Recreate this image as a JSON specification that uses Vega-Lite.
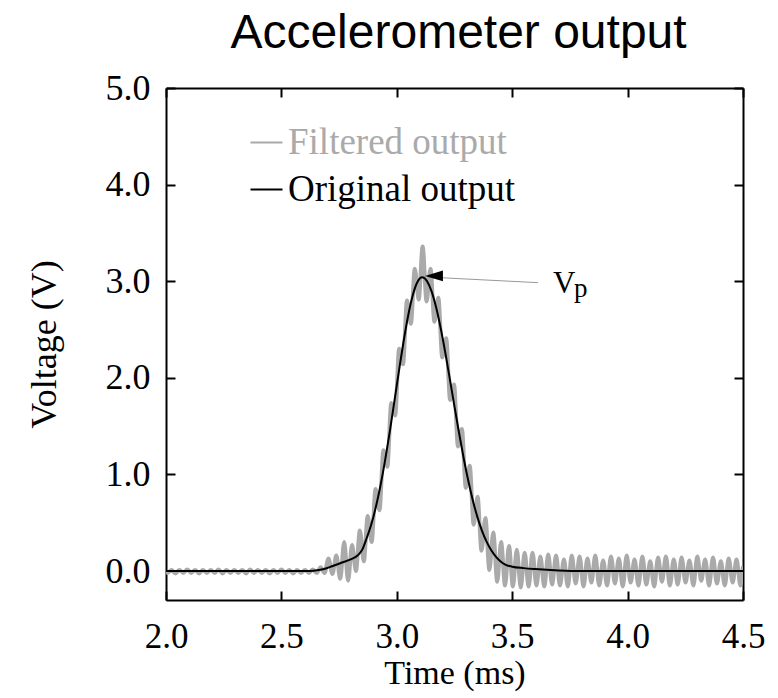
{
  "$schema": "https://vega.github.io/schema/vega-lite/v6.json",
  "width": 577,
  "height": 512,
  "autosize": "none",
  "padding": {"left": 166, "top": 88, "right": 35, "bottom": 98},
  "background": "white",
  "title": {"text": "Accelerometer output", "font": "Liberation Sans", "fontSize": 48, "fontWeight": "normal", "color": "#000000", "anchor": "middle", "offset": 12, "dx": 4},
  "config": {
    "view": {"stroke": null},
    "axis": {
      "grid": false,
      "domainColor": "#000000",
      "domainWidth": 2,
      "tickColor": "#000000",
      "tickWidth": 2,
      "tickSize": -9,
      "labelFont": "Liberation Serif",
      "labelFontSize": 36,
      "labelColor": "#000000",
      "titleFont": "Liberation Serif",
      "titleFontSize": 36,
      "titleFontWeight": "normal",
      "titleColor": "#000000"
    },
    "legend": {
      "orient": "none",
      "legendX": 82,
      "legendY": 36,
      "title": null,
      "symbolType": "stroke",
      "symbolSize": 1024,
      "symbolStrokeWidth": 2,
      "labelFont": "Liberation Serif",
      "labelFontSize": 37,
      "labelOffset": 3,
      "rowPadding": 9,
      "labelLimit": 0
    }
  },
  "datasets": {
    "filtered": [
      {"t": 2.000, "v": 0.0}, {"t": 2.007, "v": -0.02}, {"t": 2.024, "v": 0.01}, {"t": 2.041, "v": -0.025}, {"t": 2.058, "v": 0.01},
      {"t": 2.075, "v": -0.02}, {"t": 2.092, "v": 0.015}, {"t": 2.109, "v": -0.02}, {"t": 2.126, "v": 0.01}, {"t": 2.143, "v": -0.025},
      {"t": 2.160, "v": 0.01}, {"t": 2.177, "v": -0.02}, {"t": 2.194, "v": 0.01}, {"t": 2.211, "v": -0.02}, {"t": 2.228, "v": 0.015},
      {"t": 2.245, "v": -0.025}, {"t": 2.262, "v": 0.01}, {"t": 2.279, "v": -0.02}, {"t": 2.296, "v": 0.01}, {"t": 2.313, "v": -0.02},
      {"t": 2.330, "v": 0.01}, {"t": 2.347, "v": -0.025}, {"t": 2.364, "v": 0.015}, {"t": 2.381, "v": -0.02}, {"t": 2.398, "v": 0.01},
      {"t": 2.415, "v": -0.02}, {"t": 2.432, "v": 0.01}, {"t": 2.449, "v": -0.025}, {"t": 2.466, "v": 0.01}, {"t": 2.483, "v": -0.02},
      {"t": 2.500, "v": 0.015}, {"t": 2.517, "v": -0.02}, {"t": 2.534, "v": 0.01}, {"t": 2.551, "v": -0.025}, {"t": 2.568, "v": 0.01},
      {"t": 2.585, "v": -0.02}, {"t": 2.602, "v": 0.01}, {"t": 2.619, "v": -0.02}, {"t": 2.636, "v": 0.015}, {"t": 2.653, "v": -0.02},
      {"t": 2.670, "v": 0.04}, {"t": 2.687, "v": -0.02}, {"t": 2.704, "v": 0.13}, {"t": 2.721, "v": -0.03}, {"t": 2.738, "v": 0.16},
      {"t": 2.755, "v": -0.08}, {"t": 2.772, "v": 0.30}, {"t": 2.789, "v": -0.10}, {"t": 2.806, "v": 0.27}, {"t": 2.823, "v": 0.00},
      {"t": 2.840, "v": 0.42}, {"t": 2.857, "v": 0.10}, {"t": 2.874, "v": 0.57}, {"t": 2.891, "v": 0.30}, {"t": 2.908, "v": 0.85},
      {"t": 2.925, "v": 0.63}, {"t": 2.942, "v": 1.25}, {"t": 2.959, "v": 1.08}, {"t": 2.976, "v": 1.74}, {"t": 2.993, "v": 1.61},
      {"t": 3.010, "v": 2.30}, {"t": 3.027, "v": 2.14}, {"t": 3.044, "v": 2.80}, {"t": 3.061, "v": 2.56}, {"t": 3.078, "v": 3.13},
      {"t": 3.095, "v": 2.81}, {"t": 3.112, "v": 3.36}, {"t": 3.129, "v": 2.79}, {"t": 3.146, "v": 3.13}, {"t": 3.163, "v": 2.58},
      {"t": 3.180, "v": 2.83}, {"t": 3.197, "v": 2.21}, {"t": 3.214, "v": 2.41}, {"t": 3.231, "v": 1.77}, {"t": 3.248, "v": 1.93},
      {"t": 3.265, "v": 1.29}, {"t": 3.282, "v": 1.47}, {"t": 3.299, "v": 0.86}, {"t": 3.316, "v": 1.09}, {"t": 3.333, "v": 0.48},
      {"t": 3.350, "v": 0.77}, {"t": 3.367, "v": 0.21}, {"t": 3.384, "v": 0.55}, {"t": 3.401, "v": 0.01}, {"t": 3.418, "v": 0.40},
      {"t": 3.435, "v": -0.11}, {"t": 3.452, "v": 0.30}, {"t": 3.469, "v": -0.15}, {"t": 3.486, "v": 0.26}, {"t": 3.503, "v": -0.16},
      {"t": 3.520, "v": 0.22}, {"t": 3.537, "v": -0.17}, {"t": 3.554, "v": 0.19}, {"t": 3.571, "v": -0.16}, {"t": 3.588, "v": 0.19},
      {"t": 3.605, "v": -0.15}, {"t": 3.622, "v": 0.15}, {"t": 3.639, "v": -0.16}, {"t": 3.656, "v": 0.17}, {"t": 3.673, "v": -0.14},
      {"t": 3.690, "v": 0.16}, {"t": 3.707, "v": -0.15}, {"t": 3.724, "v": 0.12}, {"t": 3.741, "v": -0.16}, {"t": 3.758, "v": 0.16},
      {"t": 3.775, "v": -0.13}, {"t": 3.792, "v": 0.15}, {"t": 3.809, "v": -0.16}, {"t": 3.826, "v": 0.13}, {"t": 3.843, "v": -0.12},
      {"t": 3.860, "v": 0.16}, {"t": 3.877, "v": -0.15}, {"t": 3.894, "v": 0.11}, {"t": 3.911, "v": -0.15}, {"t": 3.928, "v": 0.15},
      {"t": 3.945, "v": -0.13}, {"t": 3.962, "v": 0.13}, {"t": 3.979, "v": -0.16}, {"t": 3.996, "v": 0.16}, {"t": 4.013, "v": -0.12},
      {"t": 4.030, "v": 0.12}, {"t": 4.047, "v": -0.15}, {"t": 4.064, "v": 0.15}, {"t": 4.081, "v": -0.14}, {"t": 4.098, "v": 0.10},
      {"t": 4.115, "v": -0.16}, {"t": 4.132, "v": 0.14}, {"t": 4.149, "v": -0.11}, {"t": 4.166, "v": 0.15}, {"t": 4.183, "v": -0.15},
      {"t": 4.200, "v": 0.12}, {"t": 4.217, "v": -0.14}, {"t": 4.234, "v": 0.14}, {"t": 4.251, "v": -0.12}, {"t": 4.268, "v": 0.11},
      {"t": 4.285, "v": -0.15}, {"t": 4.302, "v": 0.15}, {"t": 4.319, "v": -0.10}, {"t": 4.336, "v": 0.12}, {"t": 4.353, "v": -0.15},
      {"t": 4.370, "v": 0.14}, {"t": 4.387, "v": -0.13}, {"t": 4.404, "v": 0.10}, {"t": 4.421, "v": -0.15}, {"t": 4.438, "v": 0.13},
      {"t": 4.455, "v": -0.12}, {"t": 4.472, "v": 0.12}, {"t": 4.489, "v": -0.15}, {"t": 4.500, "v": 0.05}
    ],
    "original": [
      {"t": 2.00, "v": 0.0}, {"t": 2.60, "v": 0.0}, {"t": 2.64, "v": 0.004}, {"t": 2.68, "v": 0.018}, {"t": 2.72, "v": 0.05},
      {"t": 2.76, "v": 0.085}, {"t": 2.80, "v": 0.12}, {"t": 2.83, "v": 0.16}, {"t": 2.85, "v": 0.22}, {"t": 2.87, "v": 0.344},
      {"t": 2.89, "v": 0.487}, {"t": 2.91, "v": 0.67}, {"t": 2.93, "v": 0.893}, {"t": 2.95, "v": 1.155}, {"t": 2.97, "v": 1.449},
      {"t": 2.99, "v": 1.764}, {"t": 3.01, "v": 2.083}, {"t": 3.03, "v": 2.386}, {"t": 3.05, "v": 2.653}, {"t": 3.07, "v": 2.862},
      {"t": 3.09, "v": 2.994}, {"t": 3.11, "v": 3.04}, {"t": 3.13, "v": 3.004}, {"t": 3.15, "v": 2.90}, {"t": 3.17, "v": 2.733},
      {"t": 3.19, "v": 2.516}, {"t": 3.21, "v": 2.262}, {"t": 3.23, "v": 1.985}, {"t": 3.25, "v": 1.702}, {"t": 3.27, "v": 1.426},
      {"t": 3.29, "v": 1.165}, {"t": 3.31, "v": 0.931}, {"t": 3.33, "v": 0.726}, {"t": 3.35, "v": 0.553}, {"t": 3.37, "v": 0.411},
      {"t": 3.39, "v": 0.299}, {"t": 3.41, "v": 0.212}, {"t": 3.43, "v": 0.147}, {"t": 3.45, "v": 0.099}, {"t": 3.47, "v": 0.066},
      {"t": 3.50, "v": 0.045}, {"t": 3.55, "v": 0.03}, {"t": 3.60, "v": 0.02}, {"t": 3.65, "v": 0.012}, {"t": 3.70, "v": 0.006},
      {"t": 3.80, "v": 0.0}, {"t": 4.50, "v": 0.0}
    ],
    "peak": [
      {"t": 3.11, "v": 3.04, "label": "V", "sub": "p"}
    ]
  },
  "resolve": {"axis": {"x": "independent", "y": "independent"}},
  "layer": [
    {
      "data": {"name": "filtered"},
      "mark": {"type": "line", "strokeWidth": 4, "interpolate": "monotone", "clip": true},
      "encoding": {
        "x": {"field": "t", "type": "quantitative", "scale": {"domain": [2.0, 4.5], "nice": false, "zero": false},
              "axis": {"orient": "bottom", "values": [2.0, 2.5, 3.0, 3.5, 4.0, 4.5], "format": ".1f", "title": "Time (ms)", "labelFontSize": 35, "titleFontSize": 34, "labelPadding": 28, "titlePadding": 2, "labelFlush": false}},
        "y": {"field": "v", "type": "quantitative", "scale": {"domain": [-0.3, 5.0], "nice": false, "zero": false},
              "axis": {"orient": "left", "values": [0, 1, 2, 3, 4, 5], "format": ".1f", "title": "Voltage (V)", "labelPadding": 25, "titlePadding": 42}},
        "color": {"datum": "Filtered output", "type": "nominal", "scale": {"domain": ["Filtered output", "Original output"], "range": ["#aaaaaa", "#000000"]},
                  "legend": {"symbolStrokeWidth": 2, "encode": {
                    "labels": {"update": {"fill": {"signal": "datum.label === 'Filtered output' ? '#aaaaaa' : '#000000'"}}},
                    "symbols": {"update": {"strokeWidth": {"value": 2}}}
                  }}}
      }
    },
    {
      "data": {"name": "original"},
      "mark": {"type": "line", "strokeWidth": 2, "interpolate": "monotone", "clip": true},
      "encoding": {
        "x": {"field": "t", "type": "quantitative",
              "axis": {"orient": "top", "values": [2.0, 2.5, 3.0, 3.5, 4.0, 4.5], "labels": false, "title": null}},
        "y": {"field": "v", "type": "quantitative",
              "axis": {"orient": "right", "values": [0, 1, 2, 3, 4, 5], "labels": false, "title": null}},
        "color": {"datum": "Original output", "type": "nominal"}
      }
    },
    {
      "data": {"name": "peak"},
      "mark": {"type": "rule", "color": "#999999", "strokeWidth": 1},
      "encoding": {
        "x": {"datum": 3.2, "type": "quantitative", "axis": null},
        "x2": {"datum": 3.612},
        "y": {"datum": 3.035, "type": "quantitative", "axis": null},
        "y2": {"datum": 2.985}
      }
    },
    {
      "data": {"name": "peak"},
      "mark": {"type": "point", "shape": "M-1,0L1,-0.6L1,0.6Z", "filled": true, "color": "#000000", "size": 324, "opacity": 1},
      "encoding": {
        "x": {"datum": 3.161, "type": "quantitative", "axis": null},
        "y": {"datum": 3.055, "type": "quantitative", "axis": null}
      }
    },
    {
      "data": {"name": "peak"},
      "mark": {"type": "text", "font": "Liberation Serif", "fontSize": 31, "align": "left", "baseline": "alphabetic", "color": "#000000"},
      "encoding": {
        "x": {"datum": 3.677, "type": "quantitative", "axis": null},
        "y": {"datum": 2.88, "type": "quantitative", "axis": null},
        "text": {"field": "label"}
      }
    },
    {
      "data": {"name": "peak"},
      "mark": {"type": "text", "font": "Liberation Serif", "fontSize": 27, "align": "left", "baseline": "alphabetic", "color": "#000000"},
      "encoding": {
        "x": {"datum": 3.768, "type": "quantitative", "axis": null},
        "y": {"datum": 2.84, "type": "quantitative", "axis": null},
        "text": {"field": "sub"}
      }
    }
  ]
}
